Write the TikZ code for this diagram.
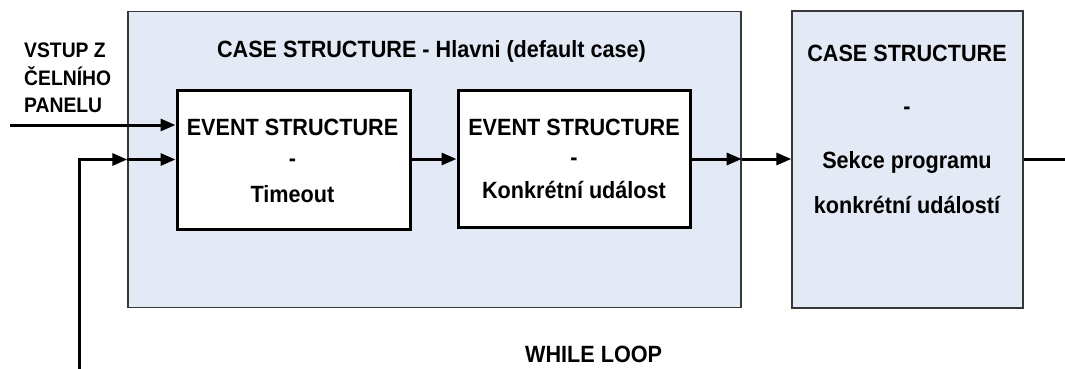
\documentclass[tikz,border=0pt]{standalone}
\usepackage{fontspec}
\setmainfont{Liberation Sans}
\newfontfamily\labelfont[FakeStretch=0.92]{Liberation Sans}
\usetikzlibrary{arrows.meta}
\definecolor{casefill}{RGB}{227,234,245}
\definecolor{caseline}{RGB}{55,55,55}
\tikzset{
  casebox/.style={draw=caseline, line width=1.4pt, fill=casefill, rectangle, inner sep=0pt},
  eventbox/.style={draw=black, line width=3pt, fill=white, rectangle, inner sep=0pt},
  lbl/.style={inner sep=0pt, anchor=base, font=\labelfont\fontsize{23.5}{28}\selectfont\bfseries},
  smalllbl/.style={inner sep=0pt, anchor=base west, font=\labelfont\fontsize{21}{25}\selectfont\bfseries},
  wire/.style={line width=3pt, black},
  tip/.style={-{Triangle[length=15pt,width=12pt]}}
}
\begin{document}
\begin{tikzpicture}[x=1pt,y=-1pt]
\useasboundingbox[fill=white] (0,0) rectangle (1065,369);

% outer case structure and the right-hand case structure
\node[casebox, minimum width=613pt, minimum height=296pt] (main) at (434.5,159.5) {};
\node[casebox, minimum width=231pt, minimum height=297pt] (right) at (907.5,159.5) {};

% the two event structures
\node[eventbox, minimum width=233pt, minimum height=139pt] (ev1) at (293.5,159.5) {};
\node[eventbox, minimum width=232pt, minimum height=137pt] (ev2) at (574,159) {};

% texts
\node[lbl] (title) at (431.5,57) {CASE STRUCTURE - Hlavni (default case)};
\node[lbl] (e1a) at (292.5,135) {EVENT STRUCTURE};
\node[lbl] (e1b) at (292.5,166) {-};
\node[lbl] (e1c) at (292.5,202) {Timeout};
\node[lbl] (e2a) at (574,135) {EVENT STRUCTURE};
\node[lbl] (e2b) at (574,165) {-};
\node[lbl] (e2c) at (574,198) {Konkrétní událost};
\node[lbl] (r1) at (907,62) {CASE STRUCTURE};
\node[lbl] (r2) at (907,114) {-};
\node[lbl] (r3) at (907,168) {Sekce programu};
\node[lbl] (r4) at (907,213) {konkrétní událostí};
\node[smalllbl] (in1) at (24,58) {VSTUP Z};
\node[smalllbl] (in2) at (24,85) {ČELNÍHO};
\node[smalllbl] (in3) at (24,112) {PANELU};
\node[smalllbl, font=\labelfont\fontsize{23.5}{28}\selectfont\bfseries] (loop) at (525,362) {WHILE LOOP};

% connectors
\coordinate (src) at (10,125);
\coordinate (loopstart) at (79,369);
\coordinate (sink) at (1065,159.5);
\coordinate (mainin) at (main.west |- ev1.west);
\coordinate (mainout) at (main.east |- ev2.east);

\draw[wire, tip] (src) -- (src -| ev1.west);
\draw[wire, tip] (loopstart) |- (mainin);
\draw[wire, tip] (mainin) -- (ev1.west);
\draw[wire, tip] (ev1.east |- ev2.west) -- (ev2.west);
\draw[wire, tip] (ev2.east) -- (mainout);
\draw[wire, tip] (mainout) -- (right.west |- mainout);
\draw[wire] (right.east |- sink) -- (sink);
\end{tikzpicture}
\end{document}
